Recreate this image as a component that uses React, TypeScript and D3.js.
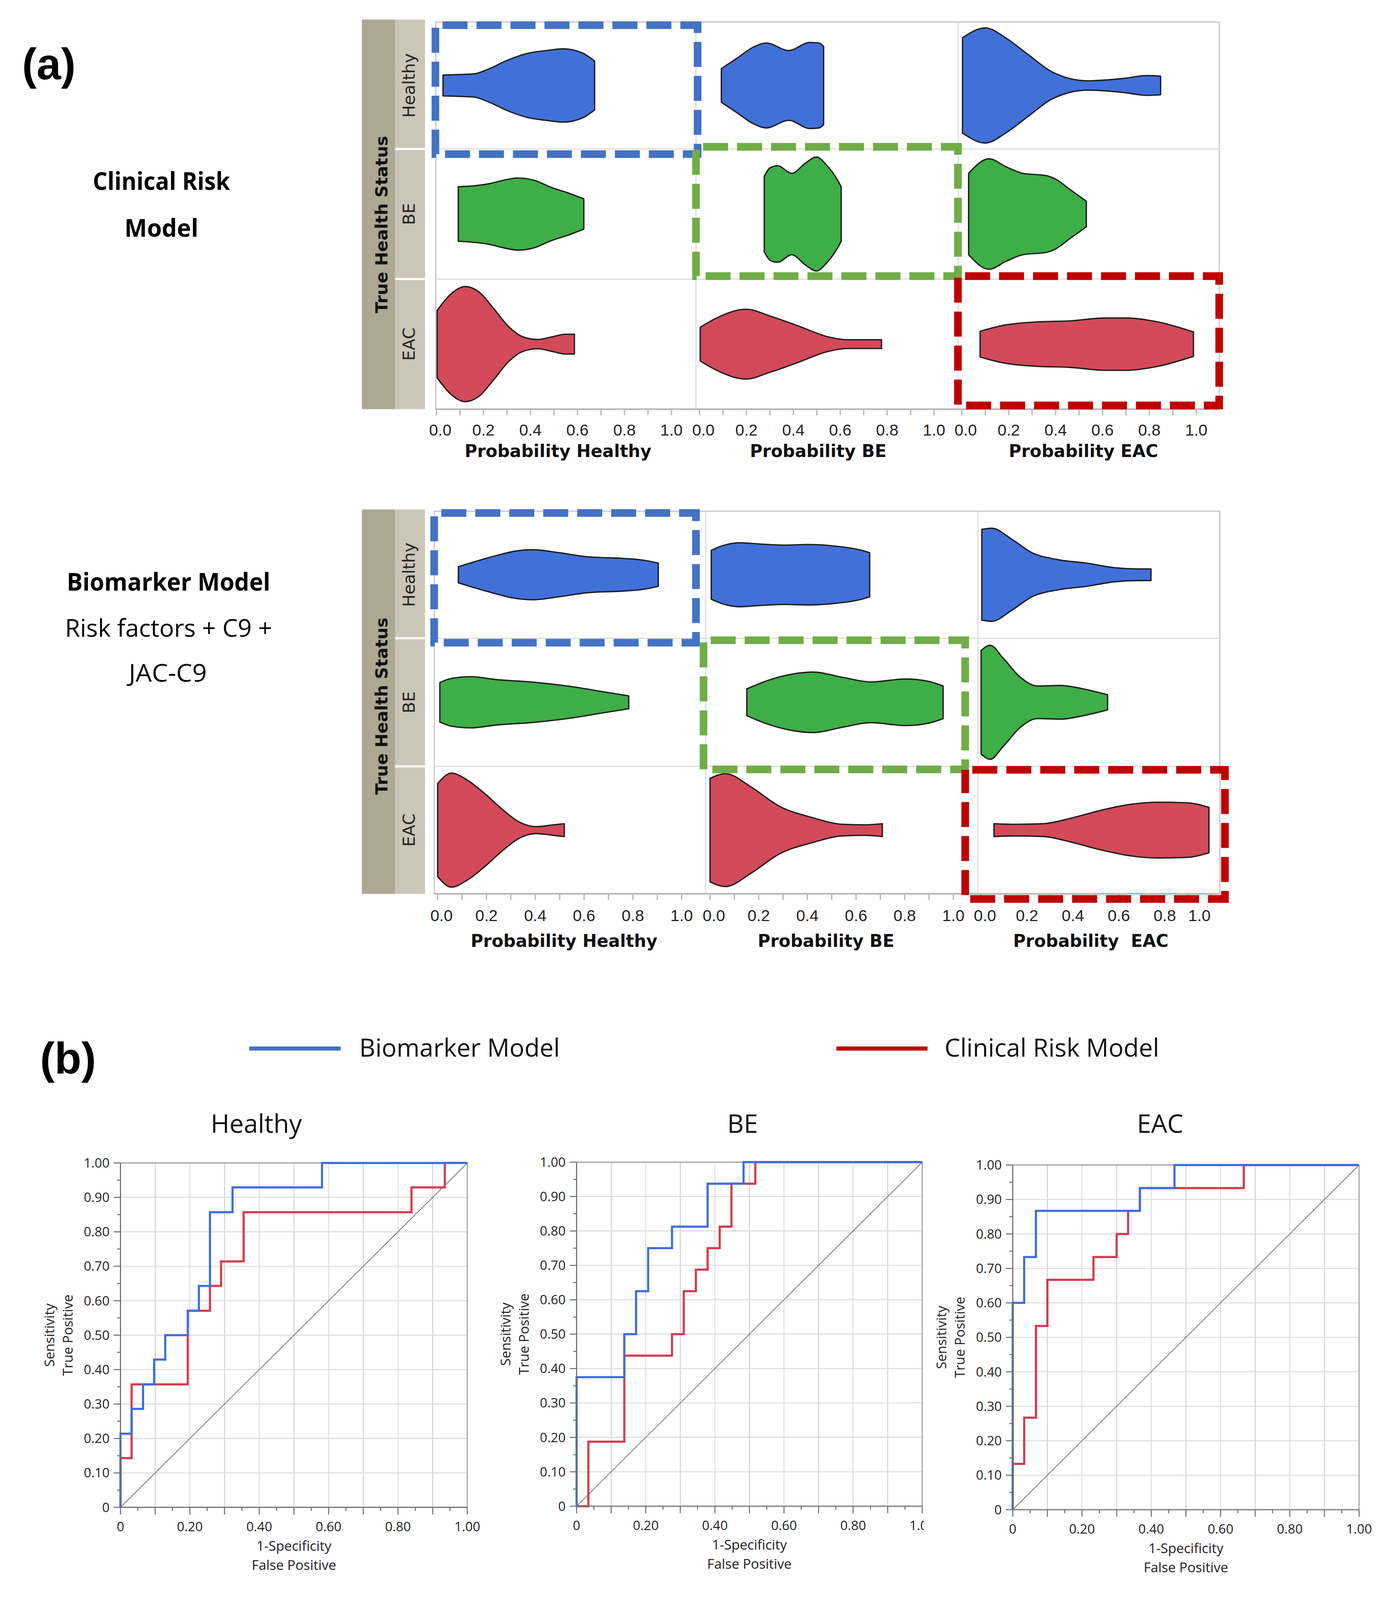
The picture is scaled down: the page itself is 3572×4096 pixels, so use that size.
import React from 'react';
import * as d3 from 'd3';

const W = 1367;
const H = 1568;

// ---------------- data ----------------
const healthStatus = ['Healthy', 'BE', 'EAC'];
const clinicalAxisTitles = ['Probability Healthy', 'Probability BE', 'Probability EAC'];
const biomarkerAxisTitles = ['Probability Healthy', 'Probability BE', 'Probability  EAC'];
const probTicks = [0, 0.2, 0.4, 0.6, 0.8, 1.0];
const probMinorTicks = [0.1, 0.3, 0.5, 0.7, 0.9];

// violin profiles: [probability, relative half-width]
// Clinical Risk Model
const clinHealthyPH = [[0.028, 0.18], [0.16, 0.2], [0.22, 0.28], [0.3, 0.43], [0.386, 0.55], [0.467, 0.6], [0.54, 0.63], [0.62, 0.56], [0.673, 0.42]];
const clinHealthyPBE = [[0.093, 0.29], [0.16, 0.47], [0.23, 0.66], [0.285, 0.73], [0.38, 0.6], [0.47, 0.74], [0.51, 0.73], [0.529, 0.67]];
const clinHealthyPEAC = [[0.003, 0.82], [0.1, 0.99], [0.19, 0.81], [0.28, 0.54], [0.386, 0.23], [0.537, 0.08], [0.687, 0.12], [0.79, 0.17], [0.848, 0.16]];
const clinBEPH = [[0.093, 0.47], [0.142, 0.48], [0.223, 0.52], [0.284, 0.58], [0.345, 0.62], [0.416, 0.58], [0.487, 0.46], [0.569, 0.35], [0.627, 0.26]];
const clinBEPBE = [[0.276, 0.65], [0.303, 0.8], [0.333, 0.83], [0.393, 0.7], [0.453, 0.88], [0.498, 0.98], [0.544, 0.83], [0.589, 0.58], [0.604, 0.47]];
const clinBEPEAC = [[0.029, 0.7], [0.116, 0.95], [0.19, 0.81], [0.26, 0.7], [0.36, 0.66], [0.4, 0.6], [0.462, 0.42], [0.531, 0.22]];
const clinEACPH = [[0.003, 0.58], [0.061, 0.86], [0.122, 0.99], [0.183, 0.89], [0.244, 0.61], [0.305, 0.31], [0.365, 0.13], [0.43, 0.08], [0.497, 0.13], [0.548, 0.17], [0.587, 0.17]];
const clinEACPBE = [[0.003, 0.29], [0.078, 0.46], [0.198, 0.6], [0.303, 0.48], [0.423, 0.31], [0.544, 0.13], [0.634, 0.075], [0.776, 0.075]];
const clinEACPEAC = [[0.078, 0.22], [0.161, 0.31], [0.311, 0.38], [0.462, 0.4], [0.612, 0.45], [0.702, 0.45], [0.838, 0.38], [0.988, 0.21]];

// Biomarker Model
const bioHealthyPH = [[0.085, 0.14], [0.148, 0.22], [0.241, 0.33], [0.31, 0.4], [0.39, 0.43], [0.496, 0.38], [0.612, 0.31], [0.762, 0.28], [0.844, 0.25], [0.904, 0.2]];
const bioHealthyPBE = [[0.005, 0.42], [0.052, 0.5], [0.122, 0.55], [0.2, 0.53], [0.307, 0.51], [0.401, 0.52], [0.52, 0.49], [0.614, 0.43], [0.656, 0.38]];
const bioHealthyPEAC = [[0.003, 0.78], [0.046, 0.8], [0.134, 0.61], [0.221, 0.38], [0.334, 0.26], [0.459, 0.2], [0.584, 0.12], [0.684, 0.1], [0.74, 0.1]];
const bioBEPH = [[0.009, 0.34], [0.056, 0.41], [0.137, 0.44], [0.241, 0.39], [0.38, 0.35], [0.531, 0.28], [0.681, 0.18], [0.783, 0.11]];
const bioBEPBE = [[0.151, 0.23], [0.227, 0.36], [0.308, 0.46], [0.425, 0.52], [0.543, 0.43], [0.661, 0.35], [0.803, 0.4], [0.897, 0.36], [0.958, 0.28]];
const bioBEPEAC = [[0.0, 0.89], [0.04, 0.98], [0.096, 0.76], [0.171, 0.43], [0.246, 0.28], [0.346, 0.29], [0.446, 0.23], [0.551, 0.13]];
const bioEACPH = [[0.0, 0.8], [0.056, 0.98], [0.125, 0.85], [0.195, 0.62], [0.264, 0.36], [0.334, 0.14], [0.403, 0.06], [0.473, 0.09], [0.519, 0.11]];
const bioEACPBE = [[0.0, 0.89], [0.064, 0.97], [0.169, 0.74], [0.285, 0.41], [0.425, 0.21], [0.543, 0.1], [0.637, 0.09], [0.708, 0.11]];
const bioEACPEAC = [[0.056, 0.11], [0.146, 0.1], [0.271, 0.11], [0.396, 0.21], [0.521, 0.34], [0.646, 0.44], [0.771, 0.48], [0.896, 0.47], [0.9925, 0.39]];

const clinicalViolins = [
  [clinHealthyPH, clinHealthyPBE, clinHealthyPEAC],
  [clinBEPH, clinBEPBE, clinBEPEAC],
  [clinEACPH, clinEACPBE, clinEACPEAC],
];
const biomarkerViolins = [
  [bioHealthyPH, bioHealthyPBE, bioHealthyPEAC],
  [bioBEPH, bioBEPBE, bioBEPEAC],
  [bioEACPH, bioEACPBE, bioEACPEAC],
];

// ROC curves: [1-specificity, sensitivity]
const rocHealthyBiomarker = [[0, 0], [0, 0.214], [0.032, 0.214], [0.032, 0.286], [0.065, 0.286], [0.065, 0.357], [0.097, 0.357], [0.097, 0.429], [0.129, 0.429], [0.129, 0.5], [0.194, 0.5], [0.194, 0.571], [0.226, 0.571], [0.226, 0.643], [0.258, 0.643], [0.258, 0.857], [0.323, 0.857], [0.323, 0.929], [0.581, 0.929], [0.581, 1], [1, 1]];
const rocHealthyClinical = [[0, 0], [0, 0.143], [0.032, 0.143], [0.032, 0.357], [0.194, 0.357], [0.194, 0.571], [0.258, 0.571], [0.258, 0.643], [0.29, 0.643], [0.29, 0.714], [0.355, 0.714], [0.355, 0.857], [0.839, 0.857], [0.839, 0.929], [0.935, 0.929], [0.935, 1], [1, 1]];
const rocBEBiomarker = [[0, 0], [0, 0.375], [0.138, 0.375], [0.138, 0.5], [0.172, 0.5], [0.172, 0.625], [0.207, 0.625], [0.207, 0.75], [0.276, 0.75], [0.276, 0.8125], [0.379, 0.8125], [0.379, 0.9375], [0.483, 0.9375], [0.483, 1], [1, 1]];
const rocBEClinical = [[0, 0], [0.034, 0], [0.034, 0.1875], [0.138, 0.1875], [0.138, 0.4375], [0.276, 0.4375], [0.276, 0.5], [0.31, 0.5], [0.31, 0.625], [0.345, 0.625], [0.345, 0.6875], [0.379, 0.6875], [0.379, 0.75], [0.414, 0.75], [0.414, 0.8125], [0.448, 0.8125], [0.448, 0.9375], [0.517, 0.9375], [0.517, 1], [1, 1]];
const rocEACBiomarker = [[0, 0], [0, 0.6], [0.033, 0.6], [0.033, 0.733], [0.067, 0.733], [0.067, 0.867], [0.367, 0.867], [0.367, 0.933], [0.467, 0.933], [0.467, 1], [1, 1]];
const rocEACClinical = [[0, 0], [0, 0.133], [0.033, 0.133], [0.033, 0.267], [0.067, 0.267], [0.067, 0.533], [0.1, 0.533], [0.1, 0.667], [0.233, 0.667], [0.233, 0.733], [0.3, 0.733], [0.3, 0.8], [0.333, 0.8], [0.333, 0.867], [0.367, 0.867], [0.367, 0.933], [0.667, 0.933], [0.667, 1], [1, 1]];

const rocTitles = ['Healthy', 'BE', 'EAC'];
const legendLabels = ['Biomarker Model', 'Clinical Risk Model'];
const rocXTicks = [0, 0.2, 0.4, 0.6, 0.8, 1.0];
const rocYTicks = [0, 0.1, 0.2, 0.3, 0.4, 0.5, 0.6, 0.7, 0.8, 0.9, 1.0];

// ---------------- styles / layout ----------------
const violinColors = ['#4170d9', '#3eae47', '#d24a59'];
const boxColors = ['#4472c4', '#70ad47', '#c00000'];
const blueLine = '#3b6ee0';
const redLine = '#d63a4c';

const topLayout = {
  rows: [21.5, 146, 273.5, 401],
  cols: [427, 682, 939, 1195],
  ranges: [[427.6, 658], [685.5, 915.4], [942.6, 1172.4]],
  bandTop: 19.2,
  tickBaseline: 427,
  titleBaseline: 447.8,
  titleX: [546.8, 801.8, 1061.8],
  thsY: 220,
  lastDx: [0, 0, 0],
  boxes: [[426.6, 24.7, 683.6, 151], [682, 143.9, 938.8, 270.6], [938.8, 270.6, 1194.9, 397.3]],
};
const bottomLayout = {
  rows: [501, 625.5, 751, 876],
  cols: [425.5, 691.6, 958.5, 1195.5],
  ranges: [[428.8, 668], [695.8, 934.3], [961.5, 1186.5]],
  bandTop: 499.3,
  tickBaseline: 902.5,
  titleBaseline: 927.8,
  titleX: [552.7, 809.5, 1069],
  thsY: 692,
  lastDx: [0, 0, -11],
  boxes: [[425.4, 502.7, 682, 629.8], [689.4, 627.4, 945.9, 754], [945.9, 754.4, 1200.5, 881]],
};

const rocLayouts = [
  { titleX: 251, x0: 117.9, x1: 457.9, yTop: 1139.7, yBot: 1477.2, clipX: 0 },
  { titleX: 727.7, x0: 565, x1: 903.8, yTop: 1138.9, yBot: 1476.1, clipX: 905.5 },
  { titleX: 1137, x0: 992.5, x1: 1332, yTop: 1141.7, yBot: 1479.5, clipX: 0 },
];
const rocSeries = [
  [rocHealthyBiomarker, rocHealthyClinical],
  [rocBEBiomarker, rocBEClinical],
  [rocEACBiomarker, rocEACClinical],
];

function ViolinPanel({ layout, profiles, titles }: any) {
  const { rows, cols, ranges, bandTop, tickBaseline, titleBaseline, titleX, thsY, lastDx, boxes } = layout;
  const top = rows[0];
  const bottom = rows[3];
  const left = cols[0];
  const right = cols[3];
  const ws = d3.scaleLinear().domain([0, 1]).range([0, 57]);
  return (
    <g>
      <rect x={354.5} y={bandTop} width={32.6} height={bottom - bandTop} fill="#aea794" />
      <rect x={387.1} y={bandTop} width={29.3} height={bottom - bandTop} fill="#cbc6b7" />
      {[rows[1], rows[2]].map((y: number, i: number) => (
        <line key={i} x1={387.1} x2={416.4} y1={y} y2={y} stroke="#fff" strokeWidth={2} />
      ))}
      <text transform={`translate(379.5,${thsY}) rotate(-90)`} textAnchor="middle" fontFamily="DejaVu Sans" fontWeight="bold" fontSize={16.5} fill="#111">True Health Status</text>
      {healthStatus.map((s, i) => (
        <text key={s} transform={`translate(406.5,${(rows[i] + rows[i + 1]) / 2}) rotate(-90)`} textAnchor="middle" fontFamily="DejaVu Sans" fontSize={16.3} fill="#222">{s}</text>
      ))}
      <rect x={left} y={top} width={right - left} height={bottom - top} fill="#fff" stroke="#c8c8c8" strokeWidth={1.2} />
      {[rows[1], rows[2]].map((y: number, i: number) => (
        <line key={'h' + i} x1={left} x2={right} y1={y} y2={y} stroke="#dcdcdc" strokeWidth={1.1} />
      ))}
      {[cols[1], cols[2]].map((x: number, i: number) => (
        <line key={'v' + i} x1={x} x2={x} y1={top} y2={bottom} stroke="#dcdcdc" strokeWidth={1.1} />
      ))}
      <line x1={left} x2={right} y1={bottom} y2={bottom} stroke="#b5b5b5" strokeWidth={1.5} />
      {ranges.map((r: number[], ci: number) => {
        const xs = d3.scaleLinear().domain([0, 1]).range(r);
        return (
          <g key={'ax' + ci}>
            {probTicks.concat(probMinorTicks).map((t, k) => (
              <line key={k} x1={xs(t)} x2={xs(t)} y1={bottom} y2={bottom + 6} stroke="#b5b5b5" strokeWidth={1.2} />
            ))}
            {probTicks.map((t, k) => (
              <text key={'l' + k} x={xs(t) + (t === 0 ? 3.8 : 0) + (t === 1 ? lastDx[ci] : 0)} y={tickBaseline} textAnchor="middle" fontFamily="Liberation Sans" fontSize={15.8} fill="#222">{t.toFixed(1)}</text>
            ))}
            <text x={titleX[ci]} y={titleBaseline} textAnchor="middle" fontFamily="DejaVu Sans" fontWeight="bold" fontSize={16.8} fill="#111" xmlSpace="preserve" style={{ whiteSpace: 'pre' }}>{titles[ci]}</text>
          </g>
        );
      })}
      {profiles.map((rowProfiles: number[][][], ri: number) =>
        rowProfiles.map((prof: number[][], ci: number) => {
          const xs = d3.scaleLinear().domain([0, 1]).range(ranges[ci]);
          const cy = (rows[ri] + rows[ri + 1]) / 2;
          const area = d3.area<number[]>()
            .x((d) => xs(d[0]))
            .y0((d) => cy - ws(d[1]))
            .y1((d) => cy + ws(d[1]))
            .curve(d3.curveMonotoneX);
          return <path key={ri + '-' + ci} d={area(prof) || ''} fill={violinColors[ri]} stroke="#1c1c1c" strokeWidth={1.3} strokeLinejoin="round" />;
        })
      )}
      {boxes.map((b: number[], i: number) => (
        <rect key={'b' + i} x={b[0]} y={b[1]} width={b[2] - b[0]} height={b[3] - b[1]} fill="none" stroke={boxColors[i]} strokeWidth={7.5} strokeDasharray="24.5 8.8" strokeDashoffset={26.3} />
      ))}
    </g>
  );
}

function RocPanel({ lay, series, title, idx }: any) {
  const { x0, x1, yTop, yBot, titleX, clipX } = lay;
  const xs = d3.scaleLinear().domain([0, 1]).range([x0, x1]);
  const ys = d3.scaleLinear().domain([0, 1]).range([yBot, yTop]);
  const grid = d3.range(1, 10).map((i) => i / 10);
  const minor = d3.range(0, 21).map((i) => i / 20);
  const line = d3.line<number[]>().x((d) => xs(d[0])).y((d) => ys(d[1]));
  const cx = (x0 + x1) / 2;
  const cy = (yTop + yBot) / 2;
  const clipId = 'rocclip' + idx;
  return (
    <g>
      {clipX ? (
        <defs>
          <clipPath id={clipId}>
            <rect x={0} y={0} width={clipX} height={H} />
          </clipPath>
        </defs>
      ) : null}
      <text x={titleX} y={1110} textAnchor="middle" fontFamily="Open Sans" fontSize={25} fill="#111">{title}</text>
      {grid.map((g, i) => (
        <line key={'gx' + i} x1={xs(g)} x2={xs(g)} y1={yTop} y2={yBot} stroke={i % 2 === 0 ? '#cfcfcf' : '#dcdcdc'} strokeWidth={0.9} />
      ))}
      {grid.map((g, i) => (
        <line key={'gy' + i} x1={x0} x2={x1} y1={ys(g)} y2={ys(g)} stroke="#dadada" strokeWidth={0.9} />
      ))}
      <line x1={x0} x2={x1} y1={yTop} y2={yTop} stroke="#9a9a9a" strokeWidth={1} />
      <line x1={x1} x2={x1} y1={yTop} y2={yBot} stroke="#9a9a9a" strokeWidth={1} />
      {minor.map((m, i) => (
        <line key={'tx' + i} x1={xs(m)} x2={xs(m)} y1={yBot} y2={yBot + (i % 2 === 0 ? 7 : 3.5)} stroke="#6e6e6e" strokeWidth={1} />
      ))}
      {minor.map((m, i) => (
        <line key={'ty' + i} x1={x0} x2={x0 - (i % 2 === 0 ? 6.7 : 3.3)} y1={ys(m)} y2={ys(m)} stroke="#6e6e6e" strokeWidth={1} />
      ))}
      <line x1={xs(0)} y1={ys(0)} x2={xs(1)} y2={ys(1)} stroke="#7a7a7a" strokeWidth={0.8} />
      <path d={line(series[1]) || ''} fill="none" stroke={redLine} strokeWidth={2.1} strokeLinejoin="miter" />
      <path d={line(series[0]) || ''} fill="none" stroke={blueLine} strokeWidth={2.1} strokeLinejoin="miter" />
      <line x1={x0} x2={x0} y1={yTop} y2={yBot} stroke="#6e6e6e" strokeWidth={1.1} />
      <line x1={x0} x2={x1} y1={yBot} y2={yBot} stroke="#6e6e6e" strokeWidth={1.1} />
      {rocYTicks.map((t, i) => (
        <text key={'ly' + i} x={x0 - 10.7} y={ys(t) + 4.5} textAnchor="end" fontFamily="Open Sans" fontSize={12.8} fill="#222">{t === 0 ? '0' : t.toFixed(2)}</text>
      ))}
      <g clipPath={clipX ? `url(#${clipId})` : undefined}>
        {rocXTicks.map((t, i) => (
          <text key={'lx' + i} x={xs(t)} y={yBot + 23.5} textAnchor="middle" fontFamily="Open Sans" fontSize={12.8} fill="#222">{t === 0 ? '0' : t.toFixed(2)}</text>
        ))}
      </g>
      <text x={cx} y={yBot + 42.4} textAnchor="middle" fontFamily="Open Sans" fontSize={13.3} fill="#222">1-Specificity</text>
      <text x={cx} y={yBot + 61.4} textAnchor="middle" fontFamily="Open Sans" fontSize={13.3} fill="#222">False Positive</text>
      <text transform={`translate(${x0 - 65},${cy}) rotate(-90)`} textAnchor="middle" fontFamily="Open Sans" fontSize={13.3} fill="#222">Sensitivity</text>
      <text transform={`translate(${x0 - 47},${cy}) rotate(-90)`} textAnchor="middle" fontFamily="Open Sans" fontSize={13.3} fill="#222">True Positive</text>
    </g>
  );
}

export default function App() {
  return (
    <svg
      width={3572}
      height={4096}
      viewBox={`0 0 ${W} ${H}`}
      xmlns="http://www.w3.org/2000/svg"
      style={{ position: 'absolute', left: 0, top: 0, display: 'block', background: '#fff' }}
    >
      <rect x={0} y={0} width={W} height={H} fill="#fff" />
      {/* panel labels */}
      <text x={21.4} y={77.6} fontFamily="Liberation Sans" fontWeight="bold" fontSize={43} fill="#000">(a)</text>
      <text x={39} y={1052} fontFamily="Liberation Sans" fontWeight="bold" fontSize={43} fill="#000">(b)</text>

      {/* left model labels */}
      <text x={158} y={186} textAnchor="middle" fontFamily="Open Sans" fontWeight="bold" fontSize={24} textLength={134.5} lengthAdjust="spacingAndGlyphs" fill="#000">Clinical Risk</text>
      <text x={158} y={232} textAnchor="middle" fontFamily="Open Sans" fontWeight="bold" fontSize={24} textLength={72.4} lengthAdjust="spacingAndGlyphs" fill="#000">Model</text>
      <text x={165} y={579} textAnchor="middle" fontFamily="Open Sans" fontWeight="bold" fontSize={24} textLength={199.5} lengthAdjust="spacingAndGlyphs" fill="#000">Biomarker Model</text>
      <text x={165} y={624} textAnchor="middle" fontFamily="Open Sans" fontSize={24} textLength={203} lengthAdjust="spacingAndGlyphs" fill="#000">Risk factors + C9 +</text>
      <text x={164.3} y={668} textAnchor="middle" fontFamily="Open Sans" fontSize={24} textLength={76.6} lengthAdjust="spacingAndGlyphs" fill="#000">JAC-C9</text>

      <ViolinPanel layout={topLayout} profiles={clinicalViolins} titles={clinicalAxisTitles} />
      <ViolinPanel layout={bottomLayout} profiles={biomarkerViolins} titles={biomarkerAxisTitles} />

      {/* legend */}
      <line x1={244} x2={333.7} y1={1027.6} y2={1027.6} stroke={boxColors[0]} strokeWidth={4} />
      <text x={352} y={1035.6} fontFamily="Open Sans" fontSize={24.5} textLength={196.6} lengthAdjust="spacingAndGlyphs" fill="#111">{legendLabels[0]}</text>
      <line x1={819.6} x2={909} y1={1027.6} y2={1027.6} stroke={boxColors[2]} strokeWidth={4} />
      <text x={925.6} y={1035.6} fontFamily="Open Sans" fontSize={24.5} textLength={210.4} lengthAdjust="spacingAndGlyphs" fill="#111">{legendLabels[1]}</text>

      {rocLayouts.map((lay, i) => (
        <RocPanel key={i} idx={i} lay={lay} series={rocSeries[i]} title={rocTitles[i]} />
      ))}
    </svg>
  );
}
